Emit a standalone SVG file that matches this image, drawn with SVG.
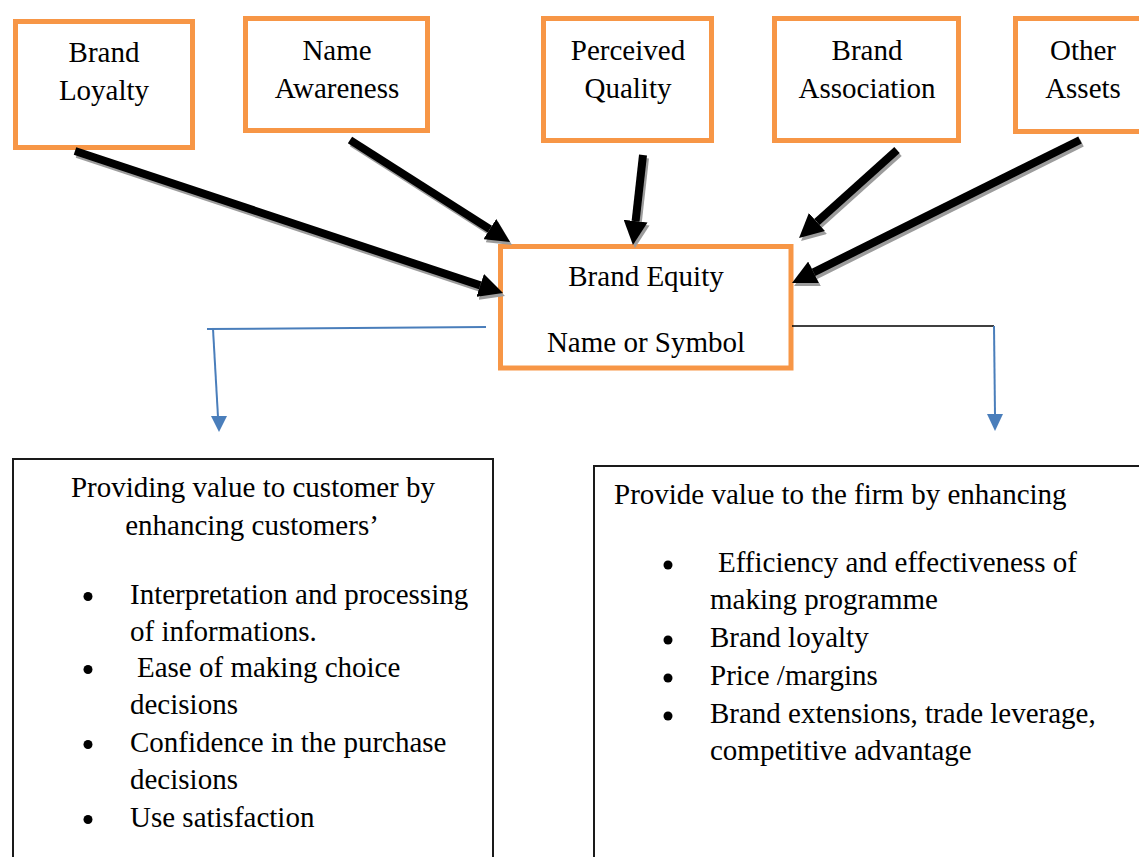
<svg xmlns="http://www.w3.org/2000/svg" width="1139" height="857" viewBox="0 0 1139 857">
  <style>
    .t { font-family: "Liberation Serif", "Times New Roman", serif; font-size: 29px; fill: #000; }
    .c { text-anchor: middle; }
    .src { fill: #fff; stroke: #f79646; stroke-width: 5; }
    .out { fill: #fff; stroke: #1a1a1a; stroke-width: 2; }
    .dot { fill: #000; }
    .fat { stroke: #000; stroke-width: 8; fill: none; }
    .fat-sh { stroke: #9c9c9c; stroke-width: 8; fill: none; }
    .blue { stroke: #4a7ebb; stroke-width: 2; fill: none; }
    .thin { stroke: #000; stroke-width: 1.5; fill: none; }
  </style>
  <defs>
    <marker id="head" viewBox="0 0 3 3" refX="0" refY="1.5" markerWidth="3" markerHeight="3" markerUnits="strokeWidth" orient="auto">
      <path d="M0,0 L3,1.5 L0,3 z" fill="#000"/>
    </marker>
    <marker id="head-sh" viewBox="0 0 3 3" refX="0" refY="1.5" markerWidth="3" markerHeight="3" markerUnits="strokeWidth" orient="auto">
      <path d="M0,0 L3,1.5 L0,3 z" fill="#9c9c9c"/>
    </marker>
  </defs>

  <rect width="1139" height="857" fill="#fff"/>

  <!-- source boxes -->
  <g id="brand-loyalty">
    <rect class="src" x="15.5" y="21.5" width="177" height="126"/>
    <text class="t c" x="104" y="62">Brand</text>
    <text class="t c" x="104" y="100">Loyalty</text>
  </g>
  <g id="name-awareness">
    <rect class="src" x="245.5" y="18.5" width="182" height="112"/>
    <text class="t c" x="337" y="60">Name</text>
    <text class="t c" x="337" y="98">Awareness</text>
  </g>
  <g id="perceived-quality">
    <rect class="src" x="543.5" y="18.5" width="168" height="122"/>
    <text class="t c" x="628" y="60">Perceived</text>
    <text class="t c" x="628" y="98">Quality</text>
  </g>
  <g id="brand-association">
    <rect class="src" x="774.5" y="18.5" width="184" height="122"/>
    <text class="t c" x="867" y="60">Brand</text>
    <text class="t c" x="867" y="98">Association</text>
  </g>
  <g id="other-assets">
    <rect class="src" x="1015.5" y="18.5" width="140" height="113"/>
    <text class="t c" x="1083" y="60">Other</text>
    <text class="t c" x="1083" y="98">Assets</text>
  </g>

  <!-- central node -->
  <g id="brand-equity">
    <rect class="src" x="500.5" y="246.5" width="290.5" height="121.5"/>
    <text class="t c" x="646" y="286">Brand Equity</text>
    <text class="t c" x="646" y="352">Name or Symbol</text>
  </g>

  <!-- outcome boxes -->
  <g id="customer-value">
    <rect class="out" x="13" y="459" width="480" height="420"/>
    <text class="t c" x="253" y="497">Providing value to customer by</text>
    <text class="t c" x="252" y="535">enhancing customers’</text>
    <circle class="dot" cx="88" cy="596.5" r="4.5"/>
    <text class="t" x="130" y="604">Interpretation and processing</text>
    <text class="t" x="130" y="641">of informations.</text>
    <circle class="dot" cx="88" cy="669.5" r="4.5"/>
    <text class="t" x="137" y="677">Ease of making choice</text>
    <text class="t" x="130" y="714">decisions</text>
    <circle class="dot" cx="88" cy="744.5" r="4.5"/>
    <text class="t" x="130" y="752">Confidence in the purchase</text>
    <text class="t" x="130" y="789">decisions</text>
    <circle class="dot" cx="88" cy="819.5" r="4.5"/>
    <text class="t" x="130" y="827">Use satisfaction</text>
  </g>
  <g id="firm-value">
    <rect class="out" x="594" y="466" width="560" height="420"/>
    <text class="t" x="614" y="504">Provide value to the firm by enhancing</text>
    <circle class="dot" cx="668" cy="565" r="4.5"/>
    <text class="t" x="718" y="572">Efficiency and effectiveness of</text>
    <text class="t" x="710" y="609">making programme</text>
    <circle class="dot" cx="668" cy="640" r="4.5"/>
    <text class="t" x="710" y="647">Brand loyalty</text>
    <circle class="dot" cx="668" cy="678" r="4.5"/>
    <text class="t" x="710" y="685">Price /margins</text>
    <circle class="dot" cx="668" cy="716" r="4.5"/>
    <text class="t" x="710" y="723">Brand extensions, trade leverage,</text>
    <text class="t" x="710" y="760">competitive advantage</text>
  </g>

  <!-- connectors -->
  <g id="connectors">
    <!-- drop shadows of the thick arrows -->
    <g transform="translate(2,3)">
      <line class="fat-sh" x1="75" y1="151" x2="480.2" y2="285.4" marker-end="url(#head-sh)"/>
      <line class="fat-sh" x1="350" y1="140" x2="489.8" y2="229.1" marker-end="url(#head-sh)"/>
      <line class="fat-sh" x1="643" y1="155" x2="635.6" y2="221.1" marker-end="url(#head-sh)"/>
      <line class="fat-sh" x1="897" y1="150" x2="816.9" y2="222" marker-end="url(#head-sh)"/>
      <line class="fat-sh" x1="1080" y1="140" x2="813.5" y2="272.3" marker-end="url(#head-sh)"/>
    </g>
    <line class="fat" x1="75" y1="151" x2="480.2" y2="285.4" marker-end="url(#head)"/>
    <line class="fat" x1="350" y1="140" x2="489.8" y2="229.1" marker-end="url(#head)"/>
    <line class="fat" x1="643" y1="155" x2="635.6" y2="221.1" marker-end="url(#head)"/>
    <line class="fat" x1="897" y1="150" x2="816.9" y2="222" marker-end="url(#head)"/>
    <line class="fat" x1="1080" y1="140" x2="813.5" y2="272.3" marker-end="url(#head)"/>

    <!-- left branch -->
    <path class="blue" d="M486,327 L207,329"/>
    <path class="blue" d="M213,329 L218,417"/>
    <polygon points="211,416 227,416 219,432" fill="#4a7ebb"/>

    <!-- right branch -->
    <path class="thin" d="M792,326 L994,326"/>
    <path class="blue" d="M994,326 L995,415"/>
    <polygon points="987,414 1003,414 995,431" fill="#4a7ebb"/>
  </g>
</svg>
